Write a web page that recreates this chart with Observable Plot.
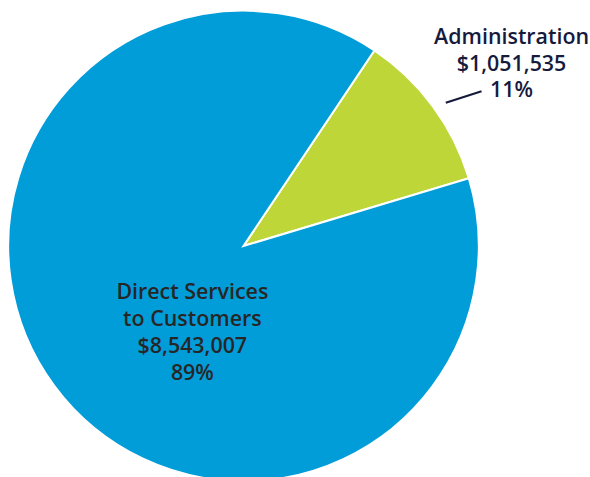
<!DOCTYPE html>
<html>
<head>
<meta charset="utf-8">
<script src="https://cdn.jsdelivr.net/npm/d3@7"></script>
<script src="https://cdn.jsdelivr.net/npm/@observablehq/plot@0.6"></script>
<style>
  html, body { margin: 0; padding: 0; background: #ffffff; }
  #chart svg { display: block; }
</style>
</head>
<body>
<div id="chart"></div>
<script>
// ---- data ----
const categories = ["Administration", "Direct Services to Customers"];
const amounts = [1051535, 8543007];
const percentLabels = ["11%", "89%"];
const nameLines = [["Administration"], ["Direct Services", "to Customers"]];
const sliceColors = ["#bed638", "#009dd9"];

// ---- layout (not data) ----
const W = 590, H = 477;
const cx = 243.5, cy = 246, R = 235.3;
const startDeg = 33.8;
const fmt = d3.format("$,");

const rows = categories.map((c, i) => ({
  category: c, amount: amounts[i], color: sliceColors[i],
  label: [...nameLines[i], fmt(amounts[i]), percentLabels[i]].join("\n")
}));

const pie = d3.pie().value(d => d.amount).sort(null)
  .startAngle(startDeg * Math.PI / 180)
  .endAngle(startDeg * Math.PI / 180 + 2 * Math.PI);
const arcs = pie(rows);
arcs.forEach(a => { a.data.mid = (a.startAngle + a.endAngle) / 2; });

// polar (clockwise from north) -> data units (y up)
const px = (ang, k) => k * Math.sin(ang);
const py = (ang, k) => k * Math.cos(ang);

// label placement per slice: radius fraction + pixel nudges
const labelK = [1.3, 0.45];
const labelDx = [21.6, 33.5];
const labelDy = [-2.5, 21.5];
const labelFill = ["#161b3d", "#262626"];
rows.forEach((r, i) => {
  r.lx = px(r.mid, labelK[i]);
  r.ly = py(r.mid, labelK[i]);
});

// leader line for the outside label (Administration)
const deg = Math.PI / 180;
const leader = [{
  x1: px(rows[0].mid + 1.0 * deg, 1.053),
  y1: py(rows[0].mid + 1.0 * deg, 1.053),
  x2: px(rows[0].mid + 3.3 * deg, 1.206),
  y2: py(rows[0].mid + 3.3 * deg, 1.206)
}];

function pieMark(index, scales, values, dimensions, context) {
  const x0 = scales.x(0), y0 = scales.y(0);
  const radius = scales.x(1) - scales.x(0);
  const arc = d3.arc().innerRadius(0).outerRadius(radius);
  const g = d3.create("svg:g").attr("transform", `translate(${x0},${y0})`);
  g.selectAll("path").data(arcs).join("path")
    .attr("d", arc)
    .attr("fill", d => d.data.color)
    .attr("stroke", "#ffffff")
    .attr("stroke-width", 2)
    .attr("stroke-linejoin", "miter");
  return g.node();
}

const plot = Plot.plot({
  width: W, height: H,
  margin: 0,
  style: { background: "#ffffff", fontFamily: "'Open Sans', sans-serif" },
  x: { domain: [-1, 1], range: [cx - R, cx + R], axis: null },
  y: { domain: [-1, 1], range: [cy + R, cy - R], axis: null },
  marks: [
    pieMark,
    Plot.link(leader, { x1: "x1", y1: "y1", x2: "x2", y2: "y2", stroke: "#161b3d", strokeWidth: 2.2 }),
    ...rows.map((r, i) => Plot.text([r], {
      x: "lx", y: "ly", text: "label",
      dx: labelDx[i], dy: labelDy[i],
      fill: labelFill[i],
      fontSize: 21.4, fontWeight: 600,
      lineHeight: 1.25,
      textAnchor: "middle"
    }))
  ]
});

document.getElementById("chart").appendChild(plot);
</script>
</body>
</html>
